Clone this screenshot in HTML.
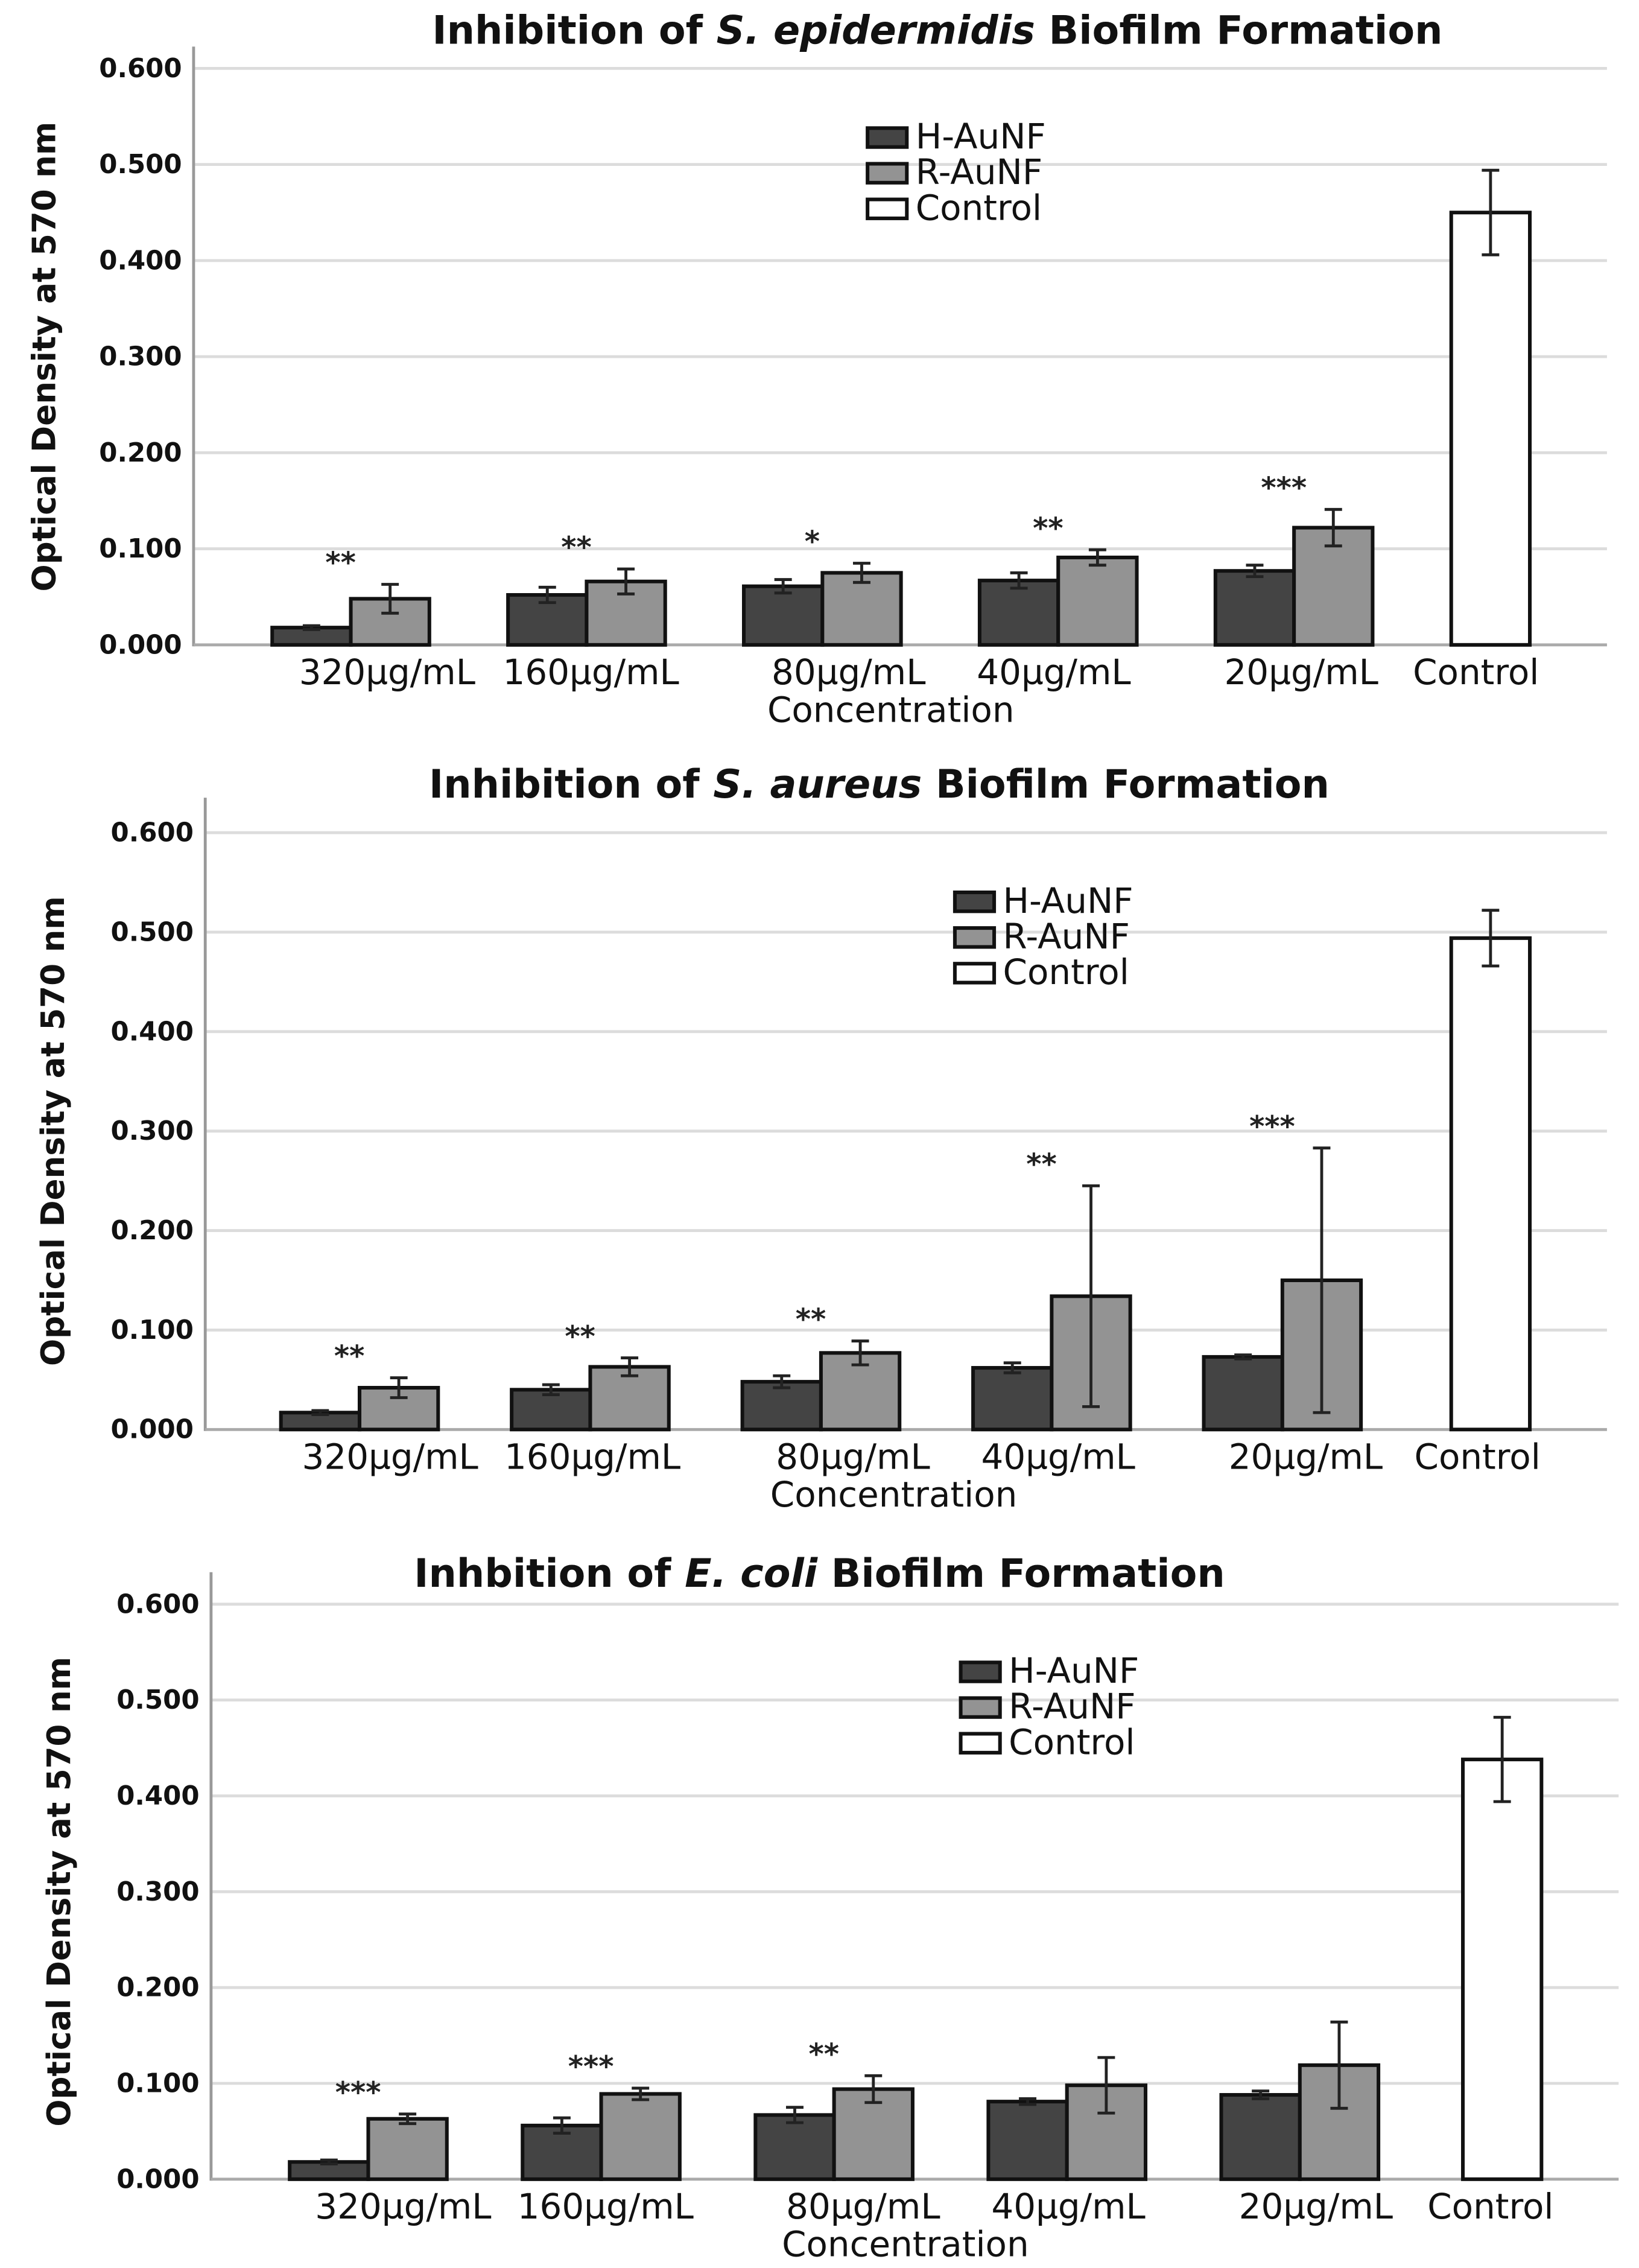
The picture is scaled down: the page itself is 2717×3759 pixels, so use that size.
<!DOCTYPE html>
<html><head><meta charset="utf-8"><style>
html,body{margin:0;padding:0;background:#fff;}
svg{display:block;font-family:"DejaVu Sans","Liberation Sans",sans-serif;}
</style></head><body>
<svg id="fig" width="2717" height="3759" viewBox="0 0 1126 1558" preserveAspectRatio="none" xmlns="http://www.w3.org/2000/svg"></svg>
<script>
const categories = ["320µg/mL","160µg/mL","80µg/mL","40µg/mL","20µg/mL","Control"];
const ticks = [0,0.1,0.2,0.3,0.4,0.5,0.6];
const tickLabels = ["0.000","0.100","0.200","0.300","0.400","0.500","0.600"];
const legendNames = ["H-AuNF","R-AuNF","Control"];
// Chart 1: S. epidermidis
const h1 = [0.018,0.052,0.061,0.067,0.077];
const h1Err = [0.002,0.008,0.007,0.008,0.006];
const r1 = [0.048,0.066,0.075,0.091,0.122];
const r1Err = [0.015,0.013,0.010,0.008,0.019];
const c1 = 0.450, c1Err = 0.044;
const stars1 = ["**","**","*","**","***"];
// Chart 2: S. aureus
const h2 = [0.017,0.040,0.048,0.062,0.073];
const h2Err = [0.002,0.005,0.006,0.005,0.002];
const r2 = [0.042,0.063,0.077,0.134,0.150];
const r2Err = [0.010,0.009,0.012,0.111,0.133];
const c2 = 0.494, c2Err = 0.028;
const stars2 = ["**","**","**","**","***"];
// Chart 3: E. coli
const h3 = [0.018,0.056,0.067,0.081,0.088];
const h3Err = [0.002,0.008,0.008,0.003,0.004];
const r3 = [0.063,0.089,0.094,0.098,0.119];
const r3Err = [0.005,0.006,0.014,0.029,0.045];
const c3 = 0.438, c3Err = 0.044;
const stars3 = ["***","***","**","","",""];

const NS="http://www.w3.org/2000/svg";
const svg=document.getElementById('fig');
function mk(tag,attrs,parent){const e=document.createElementNS(NS,tag);for(const k in attrs)e.setAttribute(k,attrs[k]);(parent||svg).appendChild(e);return e;}

function chart(cfg){
  const g=mk('g',{});
  
  
  const y=v=>cfg.y0-(v/0.6)*(cfg.y0-cfg.y6);
  const xg=i=>cfg.x0+i*cfg.step;
  ticks.forEach((t,i)=>{
    if(i>0){const l=mk('line',{x1:cfg.ax,x2:cfg.right,y1:y(t),y2:y(t),stroke:'#dcdcdc','stroke-width':2},g);
    }
    const tx=mk('text',{x:cfg.ax-8,y:y(t)+6,'text-anchor':'end','font-size':18,'font-weight':'bold',fill:'#111'},g);
    tx.textContent=tickLabels[i];
    
  });
  const ya=mk('line',{x1:cfg.ax,x2:cfg.ax,y1:cfg.top,y2:y(0)+1,stroke:'#999','stroke-width':2},g);
  
  const xa=mk('line',{x1:cfg.ax,x2:cfg.right,y1:y(0),y2:y(0),stroke:'#aaa','stroke-width':2},g);
  
  const bw=54;
  function bar(x,v,e,fill,nm){
    const r=mk('rect',{x:x,y:y(v),width:bw,height:y(0)-y(v),fill:fill,stroke:'#111','stroke-width':2.5},g);
    
    const cx=x+bw/2;
    const eb=mk('path',{d:`M${cx-6},${y(v+e)}H${cx+6}M${cx},${y(v+e)}V${y(v-e)}M${cx-6},${y(v-e)}H${cx+6}`,stroke:'#222','stroke-width':2,fill:'none'},g);
    
  }
  cfg.h.forEach((v,i)=>{
    bar(xg(i),v,cfg.hErr[i],'#444','bar-h-aunf');
    bar(xg(i)+bw,cfg.r[i],cfg.rErr[i],'#939393','bar-r-aunf');
    if(cfg.stars[i]){
      const top=Math.max(cfg.r[i]+cfg.rErr[i],cfg.h[i]+cfg.hErr[i]);
      const s=mk('text',{x:xg(i)+bw/2+20,y:y(top)-8,'text-anchor':'middle','font-size':20,'font-weight':'bold',fill:'#222'},g);
      s.textContent=cfg.stars[i];
      
    }
  });
  bar(cfg.cx,cfg.c,cfg.cErr,'#fff','bar-control');
  cfg.labelX.forEach((lx,i)=>{
    const t=mk('text',{x:lx,y:cfg.y0+27,'text-anchor':'middle','font-size':24,fill:'#111'},g);
    t.textContent=categories[i];
    
  });
  const xt=mk('text',{x:cfg.xtX,y:cfg.y0+53,'text-anchor':'middle','font-size':24,fill:'#111'},g);
  xt.textContent='Concentration';
  
  const yt=mk('text',{x:0,y:0,'text-anchor':'middle','font-size':22,'font-weight':'bold',fill:'#111',transform:`translate(${cfg.ytX},${(cfg.y0+cfg.y6)/2}) rotate(-90)`},g);
  yt.textContent='Optical Density at 570 nm';
  
  const tt=mk('text',{x:cfg.titleX,y:cfg.titleY,'text-anchor':'middle','font-size':27,'font-weight':'bold',fill:'#111'},g);
  
  cfg.title.forEach(p=>{const s=mk('tspan',p[1]?{'font-style':'italic'}:{},tt);s.textContent=p[0];});
  const fills=['#444','#939393','#fff'];
  legendNames.forEach((n,i)=>{
    const ly=cfg.legY+i*24.5;
    const r=mk('rect',{x:cfg.legX,y:ly,width:27,height:13,fill:fills[i],stroke:'#111','stroke-width':2.5},g);
    
    const t=mk('text',{x:cfg.legX+33,y:ly+14,'font-size':24,fill:'#111'},g);
    t.textContent=n;
    
  });
}
chart({name:'chart-s-epidermidis',ax:133,top:32,right:1104,y0:443,y6:47,x0:187,step:162,cx:997,
  h:h1,hErr:h1Err,r:r1,rErr:r1Err,c:c1,cErr:c1Err,stars:stars1,
  labelX:[266,406,583,724,894,1014],xtX:612,ytX:38,titleX:644,titleY:30,
  title:[["Inhibition of "],["S. epidermidis",1],[" Biofilm Formation"]],legX:596,legY:88});
chart({name:'chart-s-aureus',ax:141,top:548,right:1104,y0:982,y6:572,x0:193,step:158.5,cx:997,
  h:h2,hErr:h2Err,r:r2,rErr:r2Err,c:c2,cErr:c2Err,stars:stars2,
  labelX:[268,407,586,727,897,1015],xtX:614,ytX:44,titleX:604,titleY:548,
  title:[["Inhibition of "],["S. aureus",1],[" Biofilm Formation"]],legX:656,legY:613});
chart({name:'chart-e-coli',ax:145,top:1080,right:1112,y0:1497,y6:1102,x0:199,step:160,cx:1005,
  h:h3,hErr:h3Err,r:r3,rErr:r3Err,c:c3,cErr:c3Err,stars:stars3,
  labelX:[277,416,593,734,904,1024],xtX:622,ytX:48,titleX:563,titleY:1090,
  title:[["Inhbition of "],["E. coli",1],[" Biofilm Formation"]],legX:660,legY:1142});
</script>
</body></html>
